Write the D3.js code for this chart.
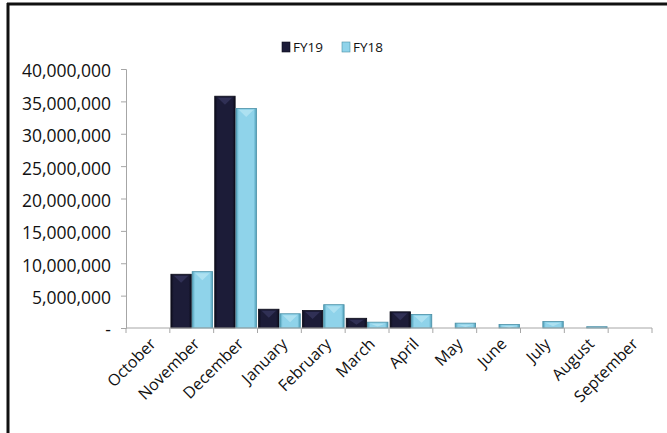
<!DOCTYPE html>
<html>
<head>
<meta charset="utf-8">
<script src="https://cdn.jsdelivr.net/npm/d3@7"></script>
<style>
  html, body { margin: 0; padding: 0; background: #fff; }
  svg { display: block; font-family: "Open Sans", "Liberation Sans", sans-serif; }
</style>
</head>
<body>
<svg id="chart" width="667" height="433"></svg>
<script>
// Monthly totals by fiscal year
const months = ["October", "November", "December", "January", "February", "March",
                "April", "May", "June", "July", "August", "September"];
const fy19 = [0, 8300000, 35800000, 2900000, 2700000, 1500000, 2500000, 0, 0, 0, 0, 0];
const fy18 = [0, 8700000, 33900000, 2200000, 3600000, 900000, 2100000, 750000, 550000, 1000000, 200000, 0];
const seriesNames = ["FY19", "FY18"];
const yTicks = [0, 5000000, 10000000, 15000000, 20000000, 25000000, 30000000, 35000000, 40000000];

(function () {
  const svg = d3.select("#chart");
  const W = 667, H = 433;

  // outer frame: top and left edges
  svg.append("line").attr("x1", 7).attr("x2", W).attr("y1", 4).attr("y2", 4)
    .attr("stroke", "#111").attr("stroke-width", 3);
  svg.append("line").attr("x1", 8).attr("x2", 8).attr("y1", 3).attr("y2", H)
    .attr("stroke", "#111").attr("stroke-width", 3);

  const plot = { left: 126, right: 652, top: 69, bottom: 328 };

  const x = d3.scaleBand().domain(months).range([plot.left, plot.right]).paddingInner(0).paddingOuter(0);
  const x1 = d3.scaleBand().domain(seriesNames).range([0, x.bandwidth()]).paddingInner(0.04).paddingOuter(0.05);
  const y = d3.scaleLinear().domain([0, 40000000]).range([plot.bottom, plot.top]);

  const defs = svg.append("defs");
  function barGradient(id, edge, mid) {
    const g = defs.append("linearGradient").attr("id", id).attr("x1", 0).attr("x2", 1).attr("y1", 0).attr("y2", 0);
    g.append("stop").attr("offset", "0%").attr("stop-color", edge);
    g.append("stop").attr("offset", "14%").attr("stop-color", mid);
    g.append("stop").attr("offset", "86%").attr("stop-color", mid);
    g.append("stop").attr("offset", "100%").attr("stop-color", edge);
  }
  barGradient("g19", "#0d0d1c", "#1c1c38");
  barGradient("g18", "#4f9fb8", "#8fd3ea");

  const colors = { FY19: { fill: "url(#g19)", stroke: "#0b0b18", tip: "#4a4a7a" },
                   FY18: { fill: "url(#g18)", stroke: "#4a8fa6", tip: "#d2f2fb" } };

  const rows = months.map((m, i) => ({ month: m, FY19: fy19[i], FY18: fy18[i] }));

  const groups = svg.append("g").selectAll("g").data(rows).join("g")
    .attr("transform", d => `translate(${x(d.month)},0)`);

  groups.selectAll("g.bar")
    .data(d => seriesNames.map(s => ({ key: s, value: d[s] })).filter(e => e.value > 0))
    .join("g").attr("class", "bar")
    .each(function (d) {
      const g = d3.select(this);
      const bx = x1(d.key), bw = x1.bandwidth();
      const yt = y(d.value), h = y(0) - yt;
      g.append("rect").attr("x", bx).attr("y", yt).attr("width", bw).attr("height", h)
        .attr("fill", colors[d.key].fill).attr("stroke", colors[d.key].stroke).attr("stroke-width", 0.8);
      // bevel highlight near the top of the bar
      const th = Math.min(7, h * 0.5);
      if (th > 1.5) {
        g.append("path")
          .attr("d", `M${bx + 3},${yt + 1.5} L${bx + bw - 3},${yt + 1.5} L${bx + bw / 2},${yt + 1.5 + th} Z`)
          .attr("fill", colors[d.key].tip).attr("opacity", 0.45);
      }
    });

  // y axis
  const yAxis = d3.axisLeft(y).tickValues(yTicks).tickSize(5).tickPadding(10)
    .tickFormat(v => v === 0 ? "-" : d3.format(",")(v));
  const gy = svg.append("g").attr("transform", `translate(${plot.left},0)`).call(yAxis);
  gy.attr("font-family", null).attr("font-size", null);
  gy.select(".domain").attr("stroke", "#a6a6a6");
  gy.selectAll(".tick line").attr("stroke", "#a6a6a6");
  gy.selectAll(".tick text").attr("fill", "#111").attr("dy", "0.45em").style("font-size", "17.5px");

  // x axis
  const gx = svg.append("g").attr("transform", `translate(0,${plot.bottom})`);
  gx.append("line").attr("x1", plot.left).attr("x2", plot.right).attr("y1", 0).attr("y2", 0).attr("stroke", "#a6a6a6");
  gx.selectAll("line.tk").data(months.concat(["end"])).join("line").attr("class", "tk")
    .attr("x1", (d, i) => plot.left + i * x.bandwidth()).attr("x2", (d, i) => plot.left + i * x.bandwidth())
    .attr("y1", 0).attr("y2", 5).attr("stroke", "#a6a6a6");
  gx.selectAll("text").data(months).join("text")
    .attr("transform", d => `translate(${x(d) + x.bandwidth() / 2 + 5},${13}) rotate(-45)`)
    .attr("text-anchor", "end").attr("dy", "0.35em")
    .attr("fill", "#111").style("font-size", "16px")
    .text(d => d);

  // legend
  const legend = svg.append("g").attr("transform", "translate(282,47)");
  seriesNames.forEach((s, i) => {
    const lg = legend.append("g").attr("transform", `translate(${i * 60},0)`);
    lg.append("rect").attr("x", 0).attr("y", -5).attr("width", 8).attr("height", 10)
      .attr("fill", s === "FY19" ? "#1c1c38" : "#8fd3ea").attr("stroke", colors[s].stroke).attr("stroke-width", 0.6);
    lg.append("text").attr("x", 11).attr("y", 0).attr("dy", "0.36em")
      .attr("fill", "#111").style("font-size", "13.5px").text(s);
  });
})();
</script>
</body>
</html>
